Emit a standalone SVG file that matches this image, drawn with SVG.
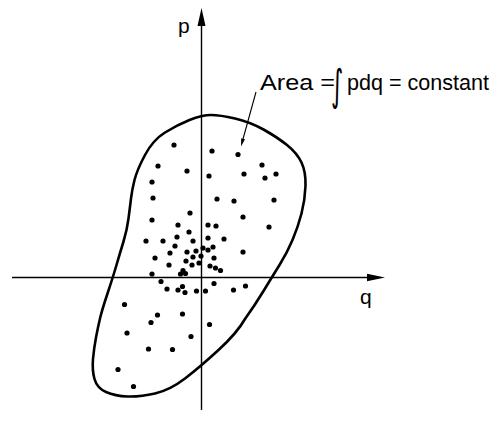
<svg xmlns="http://www.w3.org/2000/svg" width="495" height="424" viewBox="0 0 495 424">
<style>
.ax{stroke:#000;stroke-width:1.4;fill:none}
.cv{stroke:#000;stroke-width:2.6;fill:none}
.hd{fill:#000;stroke:none}
.t{font-family:"Liberation Sans","DejaVu Sans",sans-serif;fill:#000}
.i{font-family:"DejaVu Sans","Liberation Sans",sans-serif;fill:#000}
.d circle{fill:#000}
</style>
<rect width="495" height="424" fill="#fff"/>
<g id="axes">
<line class="ax" x1="201.5" y1="24" x2="201.5" y2="410"/>
<polygon class="hd" points="201.5,8 197.5,26 205.5,26"/>
<line class="ax" x1="12" y1="277.5" x2="369" y2="277.5"/>
<polygon class="hd" points="385,277.5 367,273.8 367,281.2"/>
<text class="t" x="178" y="33" font-size="21">p</text>
<text class="t" x="360" y="303.5" font-size="21">q</text>
</g>
<g id="curve">
<path class="cv" d="M189.5,120 Q202,115 211,115 Q220,115 235,118.5 Q250,122 263.5,129.5 Q277,137 287,145 Q297,153 301.5,162.5 Q306,172 305.5,186 Q305,200 301.5,213.5 Q298,227 292.5,240 Q287,253 279.5,265 Q272,277 263.5,291 Q255,305 245,319 Q237,333 218.5,350 Q200,367 185,378.5 Q170,390 155,393.5 Q140,397 127.5,396.5 Q115,396 106,392 Q97,388 94.5,379 Q92,370 93,359 Q94,348 96,337.5 Q98,327 100,318.5 Q102,310 107.5,293.5 Q113,277 116.5,265 Q120,253 123.5,241.5 Q127,230 128.5,218.5 Q130,207 131,198.5 Q132,190 134.5,180 Q137,170 145,155 Q153,140 165,132.5 Q177,125 189.5,120 Z"/>
</g>
<g id="dots" class="d">
<circle cx="174" cy="145" r="2.6"/><circle cx="212" cy="151" r="2.6"/><circle cx="238" cy="154.5" r="2.6"/>
<circle cx="158" cy="166" r="2.6"/><circle cx="187" cy="171" r="2.6"/><circle cx="209" cy="176" r="2.6"/>
<circle cx="244" cy="174" r="2.6"/><circle cx="262" cy="165" r="2.6"/><circle cx="265" cy="178" r="2.6"/>
<circle cx="276" cy="174" r="2.6"/><circle cx="152" cy="182" r="2.6"/><circle cx="153" cy="198" r="2.6"/>
<circle cx="217" cy="199" r="2.6"/><circle cx="234" cy="201" r="2.6"/><circle cx="274" cy="200" r="2.6"/>
<circle cx="190" cy="213" r="2.6"/><circle cx="152" cy="220" r="2.6"/><circle cx="243" cy="217" r="2.6"/>
<circle cx="269" cy="227" r="2.6"/><circle cx="178" cy="225" r="2.6"/><circle cx="208" cy="225" r="2.6"/>
<circle cx="216" cy="226" r="2.6"/><circle cx="189" cy="232" r="2.6"/><circle cx="146" cy="241" r="2.6"/>
<circle cx="163" cy="241" r="2.6"/><circle cx="177" cy="237" r="2.6"/><circle cx="208" cy="238" r="2.6"/>
<circle cx="224" cy="239" r="2.6"/><circle cx="193" cy="241" r="2.6"/><circle cx="175" cy="246" r="2.6"/>
<circle cx="213" cy="247" r="2.6"/><circle cx="170" cy="253" r="2.6"/><circle cx="243" cy="252" r="2.6"/>
<circle cx="155" cy="258" r="2.6"/><circle cx="214" cy="258" r="2.6"/><circle cx="169" cy="265" r="2.6"/>
<circle cx="210" cy="266" r="2.6"/><circle cx="215.5" cy="268" r="2.6"/><circle cx="220.5" cy="270.5" r="2.6"/>
<circle cx="152" cy="274" r="2.6"/><circle cx="161" cy="281.5" r="2.6"/><circle cx="214" cy="283.5" r="2.6"/>
<circle cx="245.5" cy="286" r="2.6"/>
<circle cx="180.5" cy="274" r="2.6"/><circle cx="185.5" cy="273.5" r="2.6"/><circle cx="183" cy="270.5" r="2.6"/>
<circle cx="203" cy="248" r="2.6"/><circle cx="208" cy="250" r="2.6"/>
<circle cx="193" cy="257" r="2.6"/><circle cx="187" cy="252" r="2.6"/><circle cx="196" cy="251" r="2.6"/>
<circle cx="201" cy="256" r="2.6"/><circle cx="199" cy="263" r="2.6"/><circle cx="192" cy="265" r="2.6"/>
<circle cx="186" cy="261" r="2.6"/>
<circle cx="167" cy="289" r="2.6"/><circle cx="178" cy="290" r="2.6"/><circle cx="182.5" cy="286.5" r="2.6"/>
<circle cx="185" cy="292.5" r="2.6"/><circle cx="196.5" cy="291" r="2.6"/><circle cx="205.5" cy="291" r="2.6"/>
<circle cx="233.5" cy="290" r="2.6"/><circle cx="124.5" cy="304.5" r="2.6"/><circle cx="157.5" cy="315" r="2.6"/>
<circle cx="182.5" cy="314" r="2.6"/><circle cx="151" cy="322.5" r="2.6"/><circle cx="209.5" cy="324.5" r="2.6"/>
<circle cx="127" cy="333" r="2.6"/><circle cx="191" cy="336.5" r="2.6"/><circle cx="148.5" cy="349" r="2.6"/>
<circle cx="172.5" cy="349.5" r="2.6"/><circle cx="118" cy="369.5" r="2.6"/><circle cx="133.5" cy="386.5" r="2.6"/>
</g>
<g id="label">
<line x1="256" y1="92" x2="243" y2="139" stroke="#000" stroke-width="1.1"/>
<polygon class="hd" points="241,146.5 245,139.3 241.2,138.3"/>
<text class="t" x="260" y="90" font-size="22" textLength="75" lengthAdjust="spacingAndGlyphs">Area =</text>
<text class="i" font-size="43" transform="translate(331,100) scale(0.55,1)">∫</text>
<text class="t" x="347" y="90" font-size="22" textLength="142" lengthAdjust="spacingAndGlyphs">pdq = constant</text>
</g>
</svg>
